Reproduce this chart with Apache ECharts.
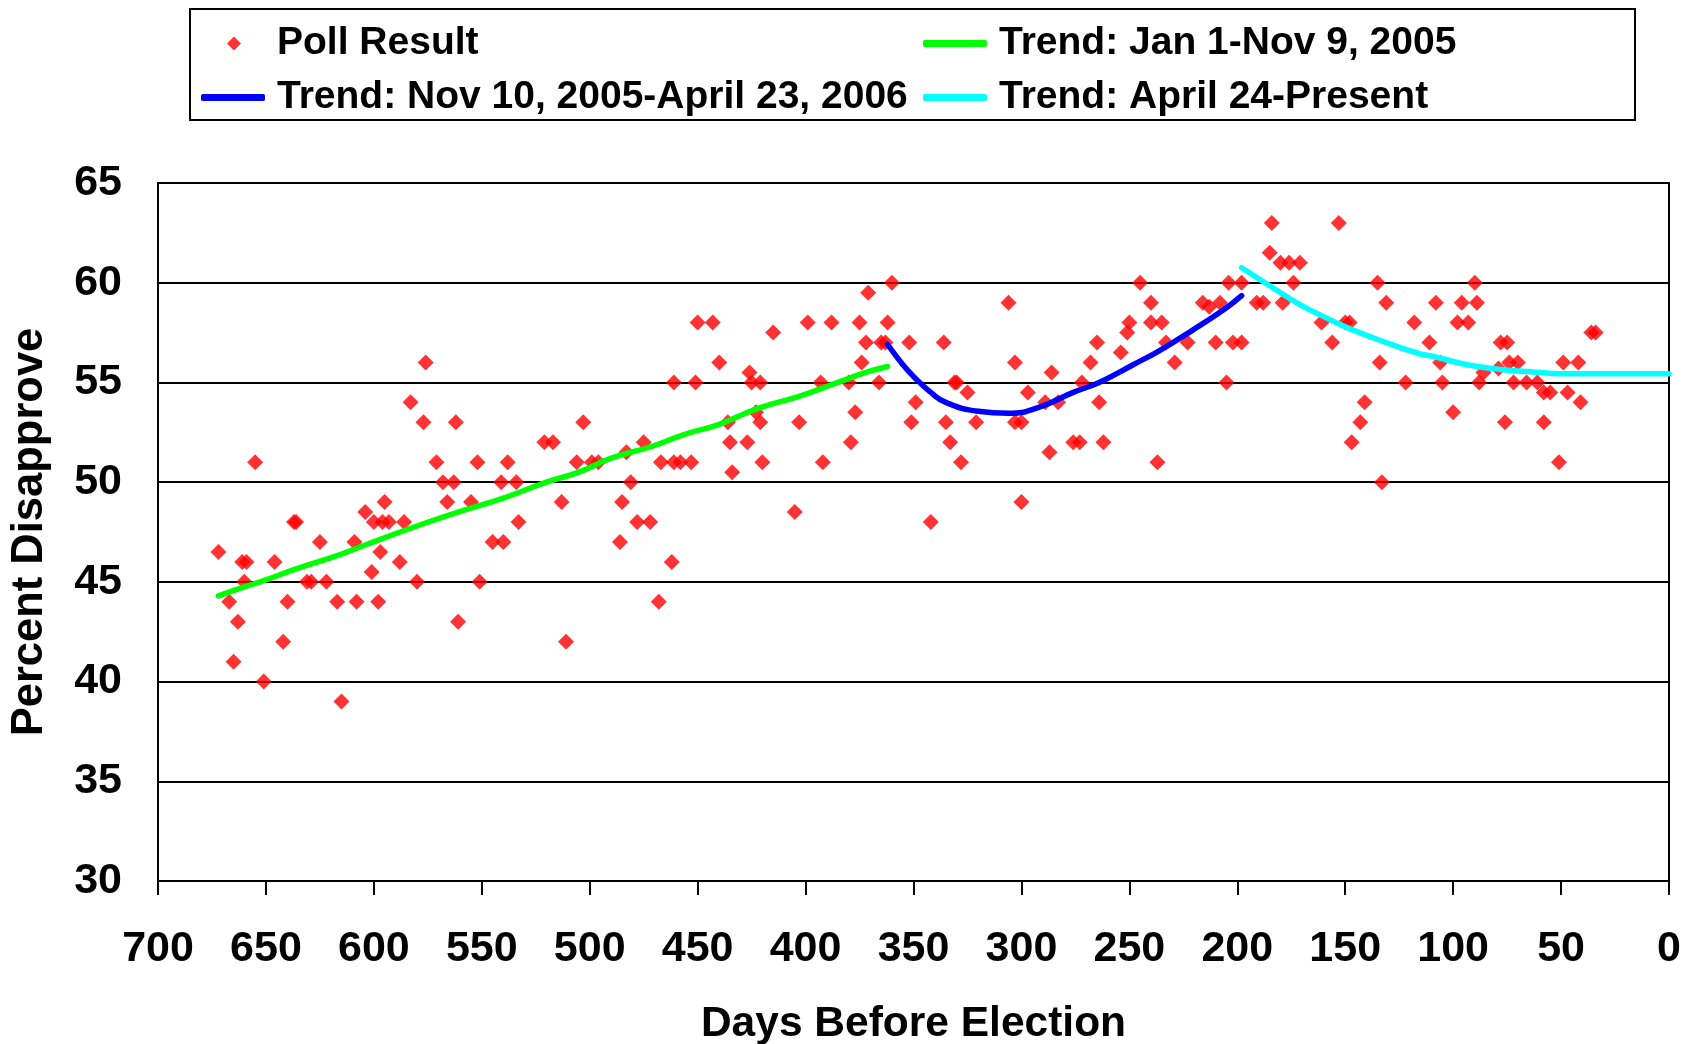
<!DOCTYPE html>
<html><head><meta charset="utf-8">
<script src="https://cdn.jsdelivr.net/npm/echarts@6/dist/echarts.min.js"></script>
<style>html,body{margin:0;padding:0;background:#fff}#c{width:1683px;height:1044px}</style>
</head><body><div id="c"></div>
<script>
const pollDays = [672,667,665,663,661,660,659,655,651,646,642,640,637,636,631,629,625,622,617,615,609,608,604,601,600,598,597,596,595,593,588,586,583,580,577,576,571,568,566,563,562,561,555,552,551,545,541,540,538,534,533,521,517,513,511,506,503,499,496,486,485,483,481,478,475,472,468,467,462,461,461,458,453,451,450,443,440,436,435,434,427,426,425,423,421,421,420,415,405,403,399,393,392,388,380,379,377,375,374,372,371,366,365,363,362,360,352,351,349,342,336,335,333,331,330,328,325,321,306,303,303,300,300,297,289,287,286,283,276,273,272,268,265,264,262,254,251,250,245,240,240,237,235,233,229,223,216,213,210,208,205,204,202,198,198,191,188,185,184,180,179,176,174,171,161,156,153,150,148,147,143,141,135,134,133,131,122,118,111,108,106,105,100,98,96,93,90,89,88,86,79,78,76,75,74,72,70,66,61,58,58,55,51,49,47,42,41,36,34];
const pollValues = [46.5,44,41,43,46,45,46,51,40,46,42,44,48,48,45,45,47,45,44,39,47,44,48.5,45.5,48,44,46.5,48,49,48,46,48,54,45,53,56,51,50,49,50,53,43,49,51,45,47,50,47,51,50,48,52,52,49,42,51,53,51,51,47,49,51.5,50,48,52,48,44,51,46,55,51,51,51,55,58,58,56,53,52,50.5,52,55.5,55,53.5,53,55,51,57.5,48.5,53,58,55,51,58,55,52,53.5,58,56,57,59.5,55,57,57,58,60,57,53,54,48,57,53,52,55,55,51,54.5,53,59,56,53,53,49,54.5,54,51.5,55.5,54,52,52,55,56,57,54,52,56.5,57.5,58,60,59,58,51,58,57,56,57,59,58.8,57,59,55,60,57,60,57,59,59,61.5,63,61,59,61,60,61,58,57,63,58,58,52,53,54,60,56,50,59,55,58,57,59,56,55,53.5,58,59,58,60,59,55,55.5,55.7,57,53,57,56,55,56,55,55,54.5,53,54.5,51,56,54.5,56,54,57.5,57.5];

const trend1Days = [672,660,650,636,616,604,580,561,540,520,505,490,471,456,440,422,403,385,372,362];
const trend1Values = [44.3,44.75,45.1,45.65,46.35,46.85,47.8,48.5,49.2,50.0,50.5,51.2,51.8,52.4,52.9,53.7,54.3,55.0,55.5,55.8];
const trend2Days = [362,355,350,342,335,320,306,292,276,264,248,236,221,205,198];
const trend2Values = [56.9,55.9,55.3,54.5,54.0,53.55,53.45,53.75,54.5,55.0,55.9,56.6,57.6,58.75,59.35];
const trend3Days = [198,185,171,159,148,131,116,109,94,78,60,48,0];
const trend3Values = [60.75,59.85,58.9,58.25,57.7,57.0,56.45,56.3,55.9,55.65,55.5,55.43,55.43];

const xTicks = {min:0, max:700, interval:50};
const yTicks = {min:30, max:65, interval:5};

const zip = (a,b) => a.map((v,i)=>[v,b[i]]);
const FONT = "'Liberation Sans', Arial, sans-serif";
const chart = echarts.init(document.getElementById('c'));

function leg(name, icon, left, top, w, h, pad){
  return {data:[{name:name, icon:icon}], left:left, top:top, orient:'horizontal',
    itemWidth:w, itemHeight:h, padding:0, selectedMode:false,
    textStyle:{fontFamily:FONT, fontWeight:'bold', fontSize:39, color:'#000', padding:[0,0,0,pad]}};
}

chart.setOption({
  animation:false,
  backgroundColor:'#fff',
  graphic:[{type:'rect', shape:{x:190,y:9,width:1445,height:111}, style:{fill:'none', stroke:'#000', lineWidth:2}, z:-1}],
  legend:[
    leg('Poll Result','diamond',227,24,14,14,31),
    leg('Trend: Jan 1-Nov 9, 2005','roundRect',923,24,64,7,7),
    leg('Trend: Nov 10, 2005-April 23, 2006','roundRect',201,78,64,7,7),
    leg('Trend: April 24-Present','roundRect',923,78,64,7,7)
  ],
  grid:{left:158, top:183, right:14, bottom:163, show:true, borderColor:'#000', borderWidth:2,
    containLabel:false, outerBoundsMode:'none'},
  xAxis:{type:'value', inverse:true, min:xTicks.min, max:xTicks.max, interval:xTicks.interval,
    name:'Days Before Election', nameLocation:'middle', nameGap:122,
    nameTextStyle:{fontFamily:FONT, fontWeight:'bold', fontSize:42.5, color:'#000'},
    axisLine:{lineStyle:{color:'#000', width:2}},
    axisTick:{show:true, inside:false, length:14, lineStyle:{color:'#000', width:2}},
    axisLabel:{margin:47, fontFamily:FONT, fontWeight:'bold', fontSize:43, color:'#000'},
    splitLine:{show:false}},
  yAxis:{type:'value', min:yTicks.min, max:yTicks.max, interval:yTicks.interval,
    name:'Percent Disapprove', nameLocation:'middle', nameGap:106,
    nameTextStyle:{fontFamily:FONT, fontWeight:'bold', fontSize:43.5, color:'#000'},
    axisLine:{show:true, lineStyle:{color:'#000', width:2}},
    axisTick:{show:true, inside:false, length:14, lineStyle:{color:'#000', width:2}},
    axisLabel:{margin:36, fontFamily:FONT, fontWeight:'bold', fontSize:43, color:'#000'},
    splitLine:{show:true, lineStyle:{color:'#000', width:2}}},
  series:[
    {name:'Poll Result', type:'scatter', symbol:'diamond', symbolSize:16, itemStyle:{color:'#ff0000'}, data:zip(pollDays,pollValues), z:3},
    {name:'Trend: Jan 1-Nov 9, 2005', type:'line', smooth:true, showSymbol:false, symbol:'none', itemStyle:{color:'#00ff00'}, lineStyle:{color:'#00ff00', width:5.5, cap:'round'}, data:zip(trend1Days,trend1Values), z:4},
    {name:'Trend: Nov 10, 2005-April 23, 2006', type:'line', smooth:true, showSymbol:false, symbol:'none', itemStyle:{color:'#0000ff'}, lineStyle:{color:'#0000ff', width:5.5, cap:'round'}, data:zip(trend2Days,trend2Values), z:4},
    {name:'Trend: April 24-Present', type:'line', smooth:true, showSymbol:false, symbol:'none', itemStyle:{color:'#00ffff'}, lineStyle:{color:'#00ffff', width:5.5, cap:'round'}, data:zip(trend3Days,trend3Values), z:4}
  ]
});
</script></body></html>
